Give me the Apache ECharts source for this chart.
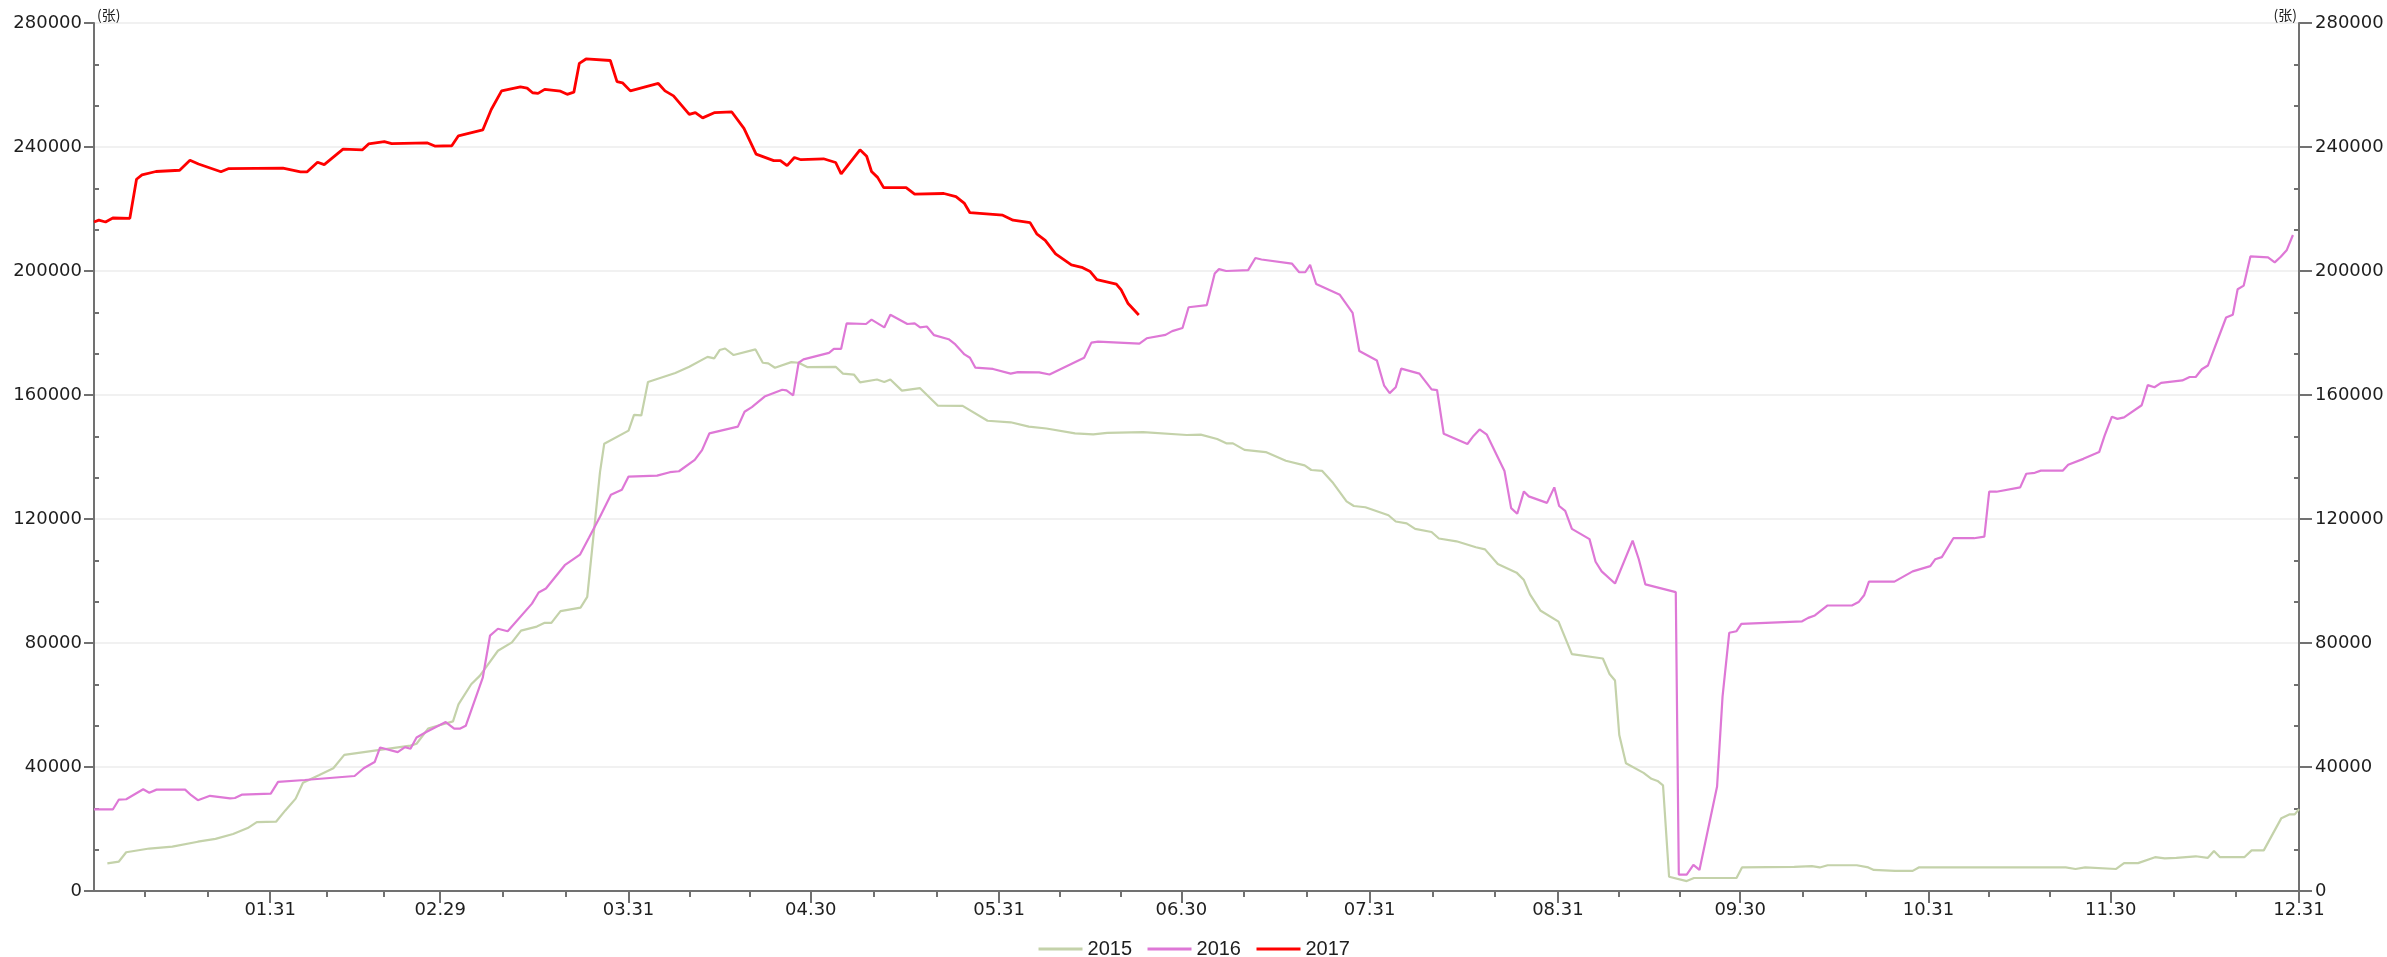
<!DOCTYPE html>
<html><head><meta charset="utf-8">
<script src="https://cdn.jsdelivr.net/npm/echarts@6/dist/echarts.min.js"></script>
<style>html,body{margin:0;padding:0;background:#fff}#c{width:2387px;height:957px}</style>
</head><body><div id="c"></div>
<script>
// x = day of year (non-leap layout), axis runs from day 2 to day 365
const monthEndDays = [31, 59, 90, 120, 151, 181, 212, 243, 273, 304, 334, 365];
const tickLabels = ['01.31', '02.29', '03.31', '04.30', '05.31', '06.30', '07.31', '08.31', '09.30', '10.31', '11.30', '12.31'];
const seriesNames = ['2015', '2016', '2017'];
const unitLabel = '(张)';

const s2015 = [[4.2,8900],[6.1,9500],[7.3,12500],[11.1,13700],[14.9,14300],[19.1,15900],[22,16800],[24.9,18400],[27.3,20300],[28.8,22200],[32,22400],[33.5,26000],[35.2,29800],[36.4,34900],[39.1,37400],[41.4,39600],[43.2,43900],[47.9,45200],[54.1,46900],[55.1,47500],[57,52400],[61.1,54700],[62,60200],[64.1,66700],[65.5,69400],[66.7,72600],[68.5,77500],[70.8,80200],[72.3,84000],[74.9,85300],[76.2,86500],[77.3,86500],[78.8,90300],[82.1,91400],[83.2,94900],
[85.3,135100],[86,144300],[90,148500],[90.9,153600],[92.1,153400],[93.2,164200],[97.7,167100],[100,169100],[103,172300],[104.1,171800],[105,174500],[105.9,175000],[107.3,172900],[110.9,174700],[112.1,170400],[113,170200],[114.1,168800],[116.8,170600],[118,170400],[119.4,169000],[124.1,169100],[125.3,166900],[127.1,166600],[128.1,164100],[130.9,165000],[132.1,164200],[133.1,165000],[135,161400],[138,162200],[140.9,156600],[145,156500],[149.1,151700],[152.9,151200],[155.9,149800],[158.8,149200],[163.5,147600],[166.5,147300],[168.8,147800],[174.7,148000],
[181.9,147100],[184.2,147200],[186.9,145800],[188.4,144400],[189.5,144400],[191.4,142300],[194.9,141600],[198.2,138800],[201.3,137300],[202.4,135800],[204.2,135500],[206,131600],[208.2,125700],[209.4,124200],[211.3,123800],[215.1,121200],[216.3,119200],[218.1,118600],[219.5,116800],[222.2,115800],[223.4,113700],[226.3,112800],[229.5,110900],[231,110200],[233.1,105500],[236.2,102700],[237.4,100300],[238.4,95700],[240.1,90500],[243.1,86900],[245.3,76400],[250.4,75000],[251.5,70000],[252.4,67900],[253.1,50300],[254.2,41200],[257.1,38100],[258.4,36200],[259.4,35500],[260.3,34100],[261.3,4600],[264.2,3200],[265.4,4200],[268.5,4200],
[272.4,4200],[273.3,7600],[281.9,7800],[284.8,8000],[286.1,7600],[287.4,8300],[292.2,8300],[294.1,7600],[295,6800],[298.5,6500],[301.4,6500],[302.4,7600],[326.6,7600],[328.2,7100],[329.8,7600],[334.9,7100],[336.2,9000],[338.5,9000],[341.3,10900],[342.9,10500],[344.8,10700],[348,11200],[350,10700],[351,12900],[352,10900],[356,10900],[357.2,13100],[359.2,13100],[362.1,23500],[363.4,24700],[364.3,24700],[365,26400]];

const s2016 = [[2,26300],[5.1,26300],[6.1,29500],[7.3,29600],[10.1,32800],[11.1,31700],[12.3,32700],[17,32700],[18,30900],[19.1,29300],[21.1,30700],[24.4,29900],[25.2,30000],[26.4,31100],[31.1,31400],[32.3,35200],[36.7,35800],[44.9,37100],[46.4,39600],[48.2,41600],[49.1,46300],[52,44800],[53.2,46400],[54.1,45900],[55.1,49500],[56.7,51300],[59.9,54500],[61.3,52400],[62.3,52400],[63.2,53300],[66,68800],[67.2,82400],[68.5,84600],[70.1,83800],[74.1,92700],[75.2,96300],[76.4,97600],[79.5,105100],[82,108500],[83.5,114000],
[85.3,120700],[87.1,127800],[88.9,129400],[90,133700],[94.7,134000],[96.8,135100],[98.3,135400],[100.9,139100],[102.1,142200],[103.3,147600],[108,149800],[109.1,154600],[110.3,156100],[112.4,159500],[115.3,161700],[116,161500],[117.1,159900],[118,170400],[118.8,171500],[123,173600],[123.8,174900],[125,174900],[125.9,183100],[129.1,182900],[130,184300],[132.1,181800],[133.1,185900],[135.9,182900],[137.1,183100],[138,181800],[139.1,182100],[140.3,179300],[142.7,178000],[143.8,176300],[145.3,173100],[146.2,172000],[147.1,168800],[150,168400],[152.9,166900],[154.1,167400],[157.6,167300],[159.3,166600],[165,172000],[166.2,176900],[167.3,177200],[174.1,176600],[175.3,178300],
[178.4,179400],[179.5,180600],[181.2,181600],[182.2,188300],[185.2,189000],[186.5,199200],[187.2,200600],[188.4,200000],[192,200300],[193.2,204200],[194.2,203700],[199.2,202400],[200.4,199600],[201.4,199600],[202.2,202000],[203.2,195800],[207.1,192300],[209.2,186500],[210.3,174200],[213.2,171100],[214.4,163000],[215.3,160600],[216.3,162500],[217.2,168500],[220.2,166900],[222.2,161800],[223.1,161600],[224.2,147500],[228.1,144200],[229.1,146800],[230.1,148900],[231.3,147200],[234.2,135500],[235.3,123500],[236.3,121700],[237.4,128900],[238.2,127300],[241.2,125200],[242.4,130200],[243.2,124200],[244.2,122600],[245.3,116800],[248.2,113500],[249.2,106200],[250.2,103100],[252.4,99200],[255.3,113000],[256.3,107100],[257.4,98900],[262.4,96400],[262.9,5300],[264.2,5300],[265.3,8400],[266.3,6800],
[269.2,33700],[270.1,62700],[271.2,83300],[272.4,83800],[273.2,86200],[283.2,87000],[284.2,88100],[285.3,88900],[287.4,92100],[291.4,92100],[292.5,93200],[293.4,95400],[294.2,99800],[298.4,99800],[301.4,103100],[304.3,104800],[305.1,107000],[306.2,107700],[308.1,113800],[311.5,113800],[313.2,114300],[314,128800],[315.2,128800],[319.1,130200],[320.1,134600],[321.5,134900],[322.5,135600],[326.1,135600],[327,137500],[329.5,139400],[332.1,141600],[333,146900],[334.2,153000],[335.1,152300],[336.2,152800],[339.1,156700],[340.1,163200],[341.2,162500],[342.3,163900],[345.8,164700],[347,165800],[348,165800],[349,168300],[350,169500],[353,185000],[354.1,185900],[354.9,194100],[355.9,195300],[357,204700],[359.9,204400],[361,202800],[362,204600],[363,206800],[364,211600]];

const s2017 = [[2,215800],[2.8,216400],[3.9,215800],[5.1,217100],[7.9,217000],[9,229600],[9.9,231000],[12.2,232100],[16.1,232500],[17.8,235700],[19.2,234500],[22.9,232000],[24.1,233000],[33.1,233200],[36,232000],[37.1,232000],[38.8,235100],[39.9,234300],[43,239300],[46.2,239100],[47.2,241000],[49.8,241700],[51,241100],[56.9,241300],[58.1,240300],[60.9,240400],[62,243600],[66,245500],[67.4,252100],[69.1,258100],[72.2,259400],[73.3,259000],[74.2,257500],[75.1,257300],[76.2,258600],[78.8,258000],[79.9,257000],[81,257700],[81.9,267000],[83,268400],[87,267900],[88.1,261100],[89,260700],[90.3,258100],[94.9,260500],[96,258100],[97.4,256500],[100,250500],[101,251100],[102.2,249400],[104.2,251100],[107,251300],[109,246000],[111,237700],[113.9,235600],[115,235600],[116.1,234000],[117.3,236600],[118.4,235900],[122.1,236200],[124.1,235000],[125,231300],[128.1,239100],[129.2,237000],[130,232100],[131,230200],[132,226900],[135.7,226900],[137.1,224800],[141.9,225000],[143.9,224000],[145.3,221800],[146.2,218800],[151.6,218000],[153.3,216400],[156.1,215600],[157.2,212000],[158.6,209900],[160.3,205500],[162.9,202000],[164.6,201200],[166,199800],[167.1,197200],[170.3,195800],[171.1,193900],[172.2,189600],[174,185800]];

// minor x ticks: thirds of each month interval
const minorDays = [];
let prevEnd = 0;
monthEndDays.forEach(function (d) { const st = (d - prevEnd) / 3; minorDays.push(prevEnd + st, prevEnd + 2 * st); prevEnd = d; });

const axisColor = '#717171';
const labelFont = { fontFamily: 'DejaVu Sans', fontSize: 18, color: '#1e1e1e' };
const plainNum = function (v) { return String(v); };
const chart = echarts.init(document.getElementById('c'), null, { renderer: 'canvas' });
const yBase = { type: 'value', min: 0, max: 280000, interval: 40000 };
chart.setOption({
  animation: false,
  backgroundColor: '#ffffff',
  grid: { left: 94, right: 88, top: 23, bottom: 66, containLabel: false, outerBoundsMode: 'none' },
  legend: {
    data: seriesNames, left: 'center', top: 934, itemWidth: 44, itemHeight: 20, itemGap: 14,
    itemStyle: { opacity: 0 },
    lineStyle: { width: 3 },
    textStyle: { fontFamily: 'Liberation Sans', fontSize: 20, color: '#1e1e1e' }
  },
  xAxis: [
    { type: 'value', min: 2, max: 365, position: 'bottom',
      axisLine: { show: true, lineStyle: { color: axisColor, width: 2 } },
      axisTick: { show: true, length: 12, lineStyle: { color: axisColor, width: 2 }, customValues: monthEndDays },
      axisLabel: { show: true, margin: 10, customValues: monthEndDays, ...labelFont,
        formatter: function (v) { const i = monthEndDays.indexOf(Math.round(v)); return i >= 0 ? tickLabels[i] : ''; } },
      splitLine: { show: false } },
    { type: 'value', min: 2, max: 365, position: 'bottom',
      axisLine: { show: false },
      axisTick: { show: true, length: 6, lineStyle: { color: axisColor, width: 2 }, customValues: minorDays },
      axisLabel: { show: false }, splitLine: { show: false } }
  ],
  yAxis: [
    Object.assign({}, yBase, { position: 'left',
      name: unitLabel, nameLocation: 'end', nameGap: 1,
      nameTextStyle: { fontFamily: 'Noto Sans CJK SC', fontSize: 14, color: '#222', align: 'left', verticalAlign: 'bottom', padding: [0, 0, 0, 3] },
      axisLine: { show: true, lineStyle: { color: axisColor, width: 2 } },
      axisTick: { show: true, length: 10, lineStyle: { color: axisColor, width: 2 } },
      axisLabel: { margin: 12, formatter: plainNum, ...labelFont },
      splitLine: { show: true, lineStyle: { color: '#ececec', width: 1.5 } } }),
    Object.assign({}, yBase, { position: 'right',
      name: unitLabel, nameLocation: 'end', nameGap: 1,
      nameTextStyle: { fontFamily: 'Noto Sans CJK SC', fontSize: 14, color: '#222', align: 'right', verticalAlign: 'bottom', padding: [0, 2, 0, 0] },
      axisLine: { show: true, lineStyle: { color: axisColor, width: 2 } },
      axisTick: { show: true, length: 13, lineStyle: { color: axisColor, width: 2 } },
      axisLabel: { margin: 16, formatter: plainNum, ...labelFont },
      splitLine: { show: false } }),
    Object.assign({}, yBase, { position: 'left',
      axisLine: { show: false }, axisTick: { show: false, inside: true },
      minorTick: { show: true, splitNumber: 3, length: 5, lineStyle: { color: axisColor, width: 2 } },
      axisLabel: { show: false }, splitLine: { show: false } }),
    Object.assign({}, yBase, { position: 'right',
      axisLine: { show: false }, axisTick: { show: false, inside: true },
      minorTick: { show: true, splitNumber: 3, length: 5, lineStyle: { color: axisColor, width: 2 } },
      axisLabel: { show: false }, splitLine: { show: false } })
  ],
  series: [
    { name: '2015', type: 'line', data: s2015, symbol: 'none', xAxisIndex: 0, yAxisIndex: 0,
      lineStyle: { color: '#c4d2aa', width: 2.2 }, itemStyle: { color: '#c4d2aa' } },
    { name: '2016', type: 'line', data: s2016, symbol: 'none', xAxisIndex: 0, yAxisIndex: 0,
      lineStyle: { color: '#de78d6', width: 2.2 }, itemStyle: { color: '#de78d6' } },
    { name: '2017', type: 'line', data: s2017, symbol: 'none', xAxisIndex: 0, yAxisIndex: 0,
      lineStyle: { color: '#ff0000', width: 2.8 }, itemStyle: { color: '#ff0000' } }
  ]
});
</script></body></html>
